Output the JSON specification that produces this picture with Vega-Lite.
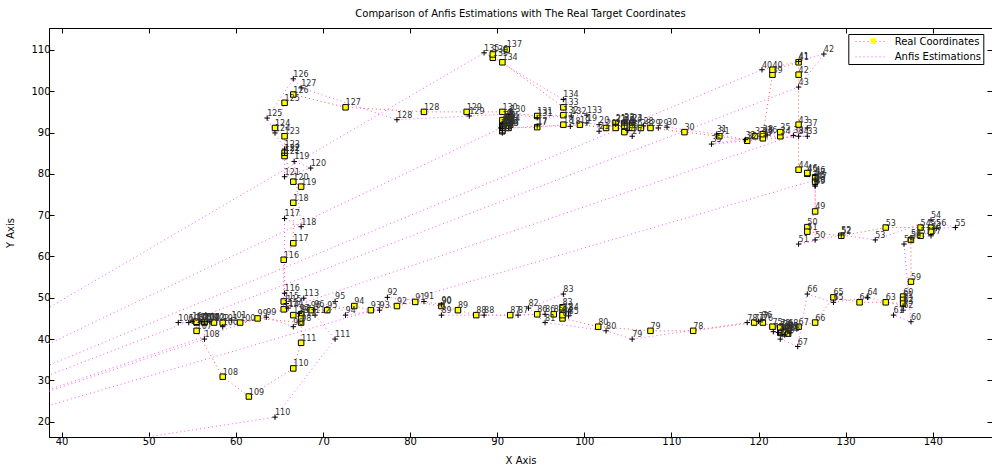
{
  "$schema": "https://vega.github.io/schema/vega-lite/v6.json",
  "width": 943,
  "height": 409,
  "autosize": {"type": "none"},
  "padding": {"left": 49, "top": 28, "right": 0, "bottom": 29},
  "background": "white",
  "title": {"text": "Comparison of Anfis Estimations with The Real Target Coordinates", "font": "DejaVu Sans", "fontSize": 10, "fontWeight": "normal", "color": "black", "anchor": "middle", "offset": 9},
  "config": {"view": {"stroke": "black", "strokeWidth": 1}},
  "data": {"values": [
    {"s":"R","n":1,"x":91.3,"y":93.7},{"s":"R","n":2,"x":91.3,"y":93.2},{"s":"R","n":3,"x":91.5,"y":92.8},{"s":"R","n":4,"x":91.3,"y":92.3},{"s":"R","n":5,"x":91.5,"y":91.9},{"s":"R","n":6,"x":91.1,"y":92.0},{"s":"R","n":7,"x":90.6,"y":92.3},{"s":"R","n":8,"x":90.6,"y":91.9},{"s":"R","n":9,"x":90.6,"y":91.5},{"s":"R","n":10,"x":90.6,"y":91.1},
    {"s":"R","n":11,"x":90.6,"y":90.7},{"s":"R","n":12,"x":90.6,"y":90.3},{"s":"R","n":13,"x":91.3,"y":91.5},{"s":"R","n":14,"x":91.3,"y":92.8},{"s":"R","n":15,"x":90.6,"y":93.0},{"s":"R","n":16,"x":91.3,"y":91.1},{"s":"R","n":17,"x":94.6,"y":91.3},{"s":"R","n":18,"x":97.6,"y":91.9},{"s":"R","n":19,"x":99.5,"y":91.9},{"s":"R","n":20,"x":102.5,"y":91.1},
    {"s":"R","n":21,"x":103.6,"y":92.3},{"s":"R","n":22,"x":104.6,"y":92.3},{"s":"R","n":23,"x":105.5,"y":92.3},{"s":"R","n":24,"x":103.6,"y":91.1},{"s":"R","n":25,"x":104.6,"y":91.6},{"s":"R","n":26,"x":105.5,"y":91.1},{"s":"R","n":27,"x":104.6,"y":90.1},{"s":"R","n":28,"x":106.5,"y":91.1},{"s":"R","n":29,"x":107.6,"y":91.1},{"s":"R","n":30,"x":111.5,"y":90.1},
    {"s":"R","n":31,"x":115.5,"y":89.1},{"s":"R","n":32,"x":118.7,"y":88.0},{"s":"R","n":33,"x":119.6,"y":89.1},{"s":"R","n":34,"x":122.5,"y":89.1},{"s":"R","n":35,"x":122.5,"y":90.1},{"s":"R","n":36,"x":120.5,"y":89.1},{"s":"R","n":37,"x":120.5,"y":88.6},{"s":"R","n":38,"x":120.5,"y":89.6},{"s":"R","n":39,"x":121.6,"y":104.0},{"s":"R","n":40,"x":121.6,"y":105.2},
    {"s":"R","n":41,"x":124.6,"y":107.0},{"s":"R","n":42,"x":124.6,"y":104.0},{"s":"R","n":43,"x":124.6,"y":91.9},{"s":"R","n":44,"x":124.6,"y":81.0},{"s":"R","n":45,"x":125.6,"y":80.0},{"s":"R","n":46,"x":125.6,"y":80.2},{"s":"R","n":47,"x":126.5,"y":79.2},{"s":"R","n":48,"x":126.5,"y":78.1},{"s":"R","n":49,"x":126.5,"y":70.9},{"s":"R","n":50,"x":125.6,"y":67.1},
    {"s":"R","n":51,"x":125.6,"y":66.0},{"s":"R","n":52,"x":129.5,"y":65.0},{"s":"R","n":53,"x":134.6,"y":67.0},{"s":"R","n":54,"x":138.6,"y":67.0},{"s":"R","n":55,"x":139.8,"y":67.0},{"s":"R","n":56,"x":139.8,"y":66.0},{"s":"R","n":57,"x":138.6,"y":65.0},{"s":"R","n":58,"x":137.5,"y":64.0},{"s":"R","n":59,"x":137.5,"y":53.9},{"s":"R","n":60,"x":136.6,"y":50.3},
    {"s":"R","n":61,"x":136.6,"y":49.5},{"s":"R","n":62,"x":136.6,"y":48.6},{"s":"R","n":63,"x":134.6,"y":48.9},{"s":"R","n":64,"x":131.6,"y":48.9},{"s":"R","n":65,"x":128.6,"y":50.1},{"s":"R","n":66,"x":126.5,"y":44.0},{"s":"R","n":67,"x":124.6,"y":43.0},{"s":"R","n":68,"x":123.4,"y":42.7},{"s":"R","n":69,"x":123.4,"y":42.0},{"s":"R","n":70,"x":122.5,"y":42.3},
    {"s":"R","n":71,"x":122.5,"y":41.5},{"s":"R","n":72,"x":123.0,"y":41.8},{"s":"R","n":73,"x":122.5,"y":42.8},{"s":"R","n":74,"x":123.4,"y":41.3},{"s":"R","n":75,"x":121.6,"y":43.0},{"s":"R","n":76,"x":120.5,"y":44.0},{"s":"R","n":77,"x":119.5,"y":44.0},{"s":"R","n":78,"x":112.5,"y":42.0},{"s":"R","n":79,"x":107.6,"y":42.0},{"s":"R","n":80,"x":101.6,"y":43.0},
    {"s":"R","n":81,"x":97.5,"y":45.0},{"s":"R","n":82,"x":97.5,"y":46.5},{"s":"R","n":83,"x":97.5,"y":47.7},{"s":"R","n":84,"x":97.5,"y":45.8},{"s":"R","n":85,"x":96.5,"y":46.0},{"s":"R","n":86,"x":94.6,"y":46.0},{"s":"R","n":87,"x":91.5,"y":45.8},{"s":"R","n":88,"x":87.6,"y":45.8},{"s":"R","n":89,"x":85.5,"y":47.0},{"s":"R","n":90,"x":83.6,"y":48.0},
    {"s":"R","n":91,"x":80.6,"y":49.0},{"s":"R","n":92,"x":78.5,"y":48.0},{"s":"R","n":93,"x":75.5,"y":47.0},{"s":"R","n":94,"x":73.6,"y":48.0},{"s":"R","n":95,"x":70.5,"y":47.0},{"s":"R","n":96,"x":68.6,"y":47.0},{"s":"R","n":97,"x":67.5,"y":46.0},{"s":"R","n":98,"x":67.5,"y":44.0},{"s":"R","n":99,"x":62.5,"y":45.0},{"s":"R","n":100,"x":60.5,"y":44.0},
    {"s":"R","n":101,"x":58.5,"y":44.0},{"s":"R","n":102,"x":57.5,"y":44.0},{"s":"R","n":103,"x":56.4,"y":44.0},{"s":"R","n":104,"x":56.4,"y":44.2},{"s":"R","n":105,"x":55.5,"y":44.0},{"s":"R","n":106,"x":55.5,"y":44.2},{"s":"R","n":107,"x":55.5,"y":42.0},{"s":"R","n":108,"x":58.5,"y":30.9},{"s":"R","n":109,"x":61.5,"y":26.1},{"s":"R","n":110,"x":66.6,"y":32.9},
    {"s":"R","n":111,"x":67.5,"y":39.1},{"s":"R","n":112,"x":67.5,"y":45.0},{"s":"R","n":113,"x":66.6,"y":45.8},{"s":"R","n":114,"x":65.5,"y":47.2},{"s":"R","n":115,"x":65.5,"y":49.1},{"s":"R","n":116,"x":65.5,"y":59.2},{"s":"R","n":117,"x":66.6,"y":63.2},{"s":"R","n":118,"x":66.6,"y":73.0},{"s":"R","n":119,"x":67.5,"y":76.9},{"s":"R","n":120,"x":66.6,"y":78.1},
    {"s":"R","n":121,"x":65.6,"y":84.3},{"s":"R","n":122,"x":65.6,"y":85.1},{"s":"R","n":123,"x":65.6,"y":89.1},{"s":"R","n":124,"x":64.5,"y":91.1},{"s":"R","n":125,"x":65.6,"y":97.2},{"s":"R","n":126,"x":66.6,"y":99.2},{"s":"R","n":127,"x":72.6,"y":96.1},{"s":"R","n":128,"x":81.6,"y":95.0},{"s":"R","n":129,"x":86.5,"y":95.0},{"s":"R","n":130,"x":90.6,"y":95.0},
    {"s":"R","n":131,"x":94.6,"y":94.0},{"s":"R","n":132,"x":97.6,"y":94.2},{"s":"R","n":133,"x":97.6,"y":96.1},{"s":"R","n":134,"x":90.6,"y":107.0},{"s":"R","n":135,"x":89.5,"y":108.1},{"s":"R","n":136,"x":89.5,"y":108.9},{"s":"R","n":137,"x":91.1,"y":110.1},
    {"s":"A","n":1,"x":0,"y":0},{"s":"A","n":2,"x":90.4,"y":91.1},{"s":"A","n":3,"x":91.1,"y":93.2},{"s":"A","n":4,"x":91.3,"y":92.5},{"s":"A","n":5,"x":91.5,"y":91.9},{"s":"A","n":6,"x":90.8,"y":92.6},{"s":"A","n":7,"x":91.3,"y":93.6},{"s":"A","n":8,"x":90.6,"y":92.0},{"s":"A","n":9,"x":91.5,"y":93.0},{"s":"A","n":10,"x":90.6,"y":90.5},
    {"s":"A","n":11,"x":91.0,"y":91.6},{"s":"A","n":12,"x":90.6,"y":89.9},{"s":"A","n":13,"x":91.3,"y":91.0},{"s":"A","n":14,"x":91.5,"y":92.4},{"s":"A","n":15,"x":90.9,"y":93.0},{"s":"A","n":16,"x":90.6,"y":90.9},{"s":"A","n":17,"x":94.6,"y":91.6},{"s":"A","n":18,"x":98.4,"y":91.5},{"s":"A","n":19,"x":100.3,"y":92.3},{"s":"A","n":20,"x":101.7,"y":91.9},
    {"s":"A","n":21,"x":101.7,"y":90.3},{"s":"A","n":22,"x":103.6,"y":92.0},{"s":"A","n":23,"x":104.6,"y":92.6},{"s":"A","n":24,"x":105.5,"y":92.4},{"s":"A","n":25,"x":104.6,"y":91.8},{"s":"A","n":26,"x":105.0,"y":90.5},{"s":"A","n":27,"x":105.5,"y":89.1},{"s":"A","n":28,"x":106.8,"y":91.6},{"s":"A","n":29,"x":108.5,"y":91.1},{"s":"A","n":30,"x":109.5,"y":91.3},
    {"s":"A","n":31,"x":115.2,"y":89.6},{"s":"A","n":32,"x":118.5,"y":88.3},{"s":"A","n":33,"x":125.6,"y":89.1},{"s":"A","n":34,"x":124.6,"y":89.1},{"s":"A","n":35,"x":114.6,"y":87.2},{"s":"A","n":36,"x":121.0,"y":89.4},{"s":"A","n":37,"x":125.6,"y":91.1},{"s":"A","n":38,"x":124.0,"y":89.3},{"s":"A","n":39,"x":0,"y":0},{"s":"A","n":40,"x":120.4,"y":105.2},
    {"s":"A","n":41,"x":124.6,"y":107.2},{"s":"A","n":42,"x":127.5,"y":109.0},{"s":"A","n":43,"x":124.6,"y":101.0},{"s":"A","n":44,"x":0,"y":0},{"s":"A","n":45,"x":126.5,"y":78.5},{"s":"A","n":46,"x":126.5,"y":79.6},{"s":"A","n":47,"x":126.7,"y":78.2},{"s":"A","n":48,"x":126.5,"y":77.3},{"s":"A","n":49,"x":126.5,"y":77.0},{"s":"A","n":50,"x":126.5,"y":64.0},
    {"s":"A","n":51,"x":124.6,"y":63.0},{"s":"A","n":52,"x":129.5,"y":65.2},{"s":"A","n":53,"x":133.4,"y":64.0},{"s":"A","n":54,"x":139.8,"y":68.8},{"s":"A","n":55,"x":142.6,"y":67.0},{"s":"A","n":56,"x":140.4,"y":66.8},{"s":"A","n":57,"x":139.8,"y":65.0},{"s":"A","n":58,"x":137.5,"y":64.5},{"s":"A","n":59,"x":136.7,"y":63.0},{"s":"A","n":60,"x":137.5,"y":44.2},
    {"s":"A","n":61,"x":135.5,"y":45.8},{"s":"A","n":62,"x":136.6,"y":47.0},{"s":"A","n":63,"x":136.6,"y":48.0},{"s":"A","n":64,"x":132.5,"y":50.1},{"s":"A","n":65,"x":128.6,"y":48.9},{"s":"A","n":66,"x":125.6,"y":50.9},{"s":"A","n":67,"x":124.5,"y":38.2},{"s":"A","n":68,"x":122.5,"y":40.0},{"s":"A","n":69,"x":123.0,"y":41.0},{"s":"A","n":70,"x":122.3,"y":41.6},
    {"s":"A","n":71,"x":123.4,"y":42.0},{"s":"A","n":72,"x":122.8,"y":42.4},{"s":"A","n":73,"x":123.6,"y":41.5},{"s":"A","n":74,"x":122.6,"y":41.2},{"s":"A","n":75,"x":121.7,"y":41.8},{"s":"A","n":76,"x":120.4,"y":44.6},{"s":"A","n":77,"x":120.0,"y":44.3},{"s":"A","n":78,"x":118.7,"y":44.0},{"s":"A","n":79,"x":105.5,"y":40.0},{"s":"A","n":80,"x":102.5,"y":42.0},
    {"s":"A","n":81,"x":95.5,"y":44.0},{"s":"A","n":82,"x":93.6,"y":47.5},{"s":"A","n":83,"x":97.6,"y":50.9},{"s":"A","n":84,"x":98.2,"y":46.6},{"s":"A","n":85,"x":98.2,"y":45.6},{"s":"A","n":86,"x":95.5,"y":46.0},{"s":"A","n":87,"x":92.4,"y":45.8},{"s":"A","n":88,"x":88.5,"y":45.8},{"s":"A","n":89,"x":83.6,"y":45.8},{"s":"A","n":90,"x":83.6,"y":48.3},
    {"s":"A","n":91,"x":81.6,"y":49.1},{"s":"A","n":92,"x":77.4,"y":50.1},{"s":"A","n":93,"x":76.5,"y":47.0},{"s":"A","n":94,"x":72.6,"y":45.8},{"s":"A","n":95,"x":71.4,"y":49.1},{"s":"A","n":96,"x":69.0,"y":47.2},{"s":"A","n":97,"x":67.3,"y":46.2},{"s":"A","n":98,"x":66.6,"y":43.0},{"s":"A","n":99,"x":63.5,"y":45.3},{"s":"A","n":100,"x":58.5,"y":43.0},
    {"s":"A","n":101,"x":59.5,"y":44.6},{"s":"A","n":102,"x":57.0,"y":44.2},{"s":"A","n":103,"x":56.0,"y":44.2},{"s":"A","n":104,"x":55.0,"y":44.3},{"s":"A","n":105,"x":54.6,"y":44.0},{"s":"A","n":106,"x":53.4,"y":44.0},{"s":"A","n":107,"x":56.4,"y":44.2},{"s":"A","n":108,"x":56.4,"y":40.0},{"s":"A","n":109,"x":0,"y":0},{"s":"A","n":110,"x":64.5,"y":21.1},
    {"s":"A","n":111,"x":71.4,"y":40.0},{"s":"A","n":112,"x":69.1,"y":45.8},{"s":"A","n":113,"x":67.8,"y":49.9},{"s":"A","n":114,"x":66.0,"y":47.5},{"s":"A","n":115,"x":65.8,"y":48.6},{"s":"A","n":116,"x":65.6,"y":51.1},{"s":"A","n":117,"x":65.6,"y":69.2},{"s":"A","n":118,"x":67.5,"y":67.2},{"s":"A","n":119,"x":66.7,"y":83.0},{"s":"A","n":120,"x":68.6,"y":81.4},
    {"s":"A","n":121,"x":65.6,"y":79.3},{"s":"A","n":122,"x":65.6,"y":85.0},{"s":"A","n":123,"x":65.6,"y":86.0},{"s":"A","n":124,"x":64.5,"y":89.9},{"s":"A","n":125,"x":63.6,"y":93.5},{"s":"A","n":126,"x":66.6,"y":103.0},{"s":"A","n":127,"x":67.5,"y":100.8},{"s":"A","n":128,"x":78.5,"y":93.1},{"s":"A","n":129,"x":86.8,"y":94.0},{"s":"A","n":130,"x":91.5,"y":94.5},
    {"s":"A","n":131,"x":94.6,"y":93.6},{"s":"A","n":132,"x":98.5,"y":94.0},{"s":"A","n":133,"x":100.3,"y":94.2},{"s":"A","n":134,"x":97.6,"y":98.0},{"s":"A","n":135,"x":88.5,"y":109.3},{"s":"A","n":136,"x":0,"y":0},{"s":"A","n":137,"x":0,"y":0}
  ]},
  "resolve": {"axis": {"x": "independent", "y": "independent"}},
  "layer": [
    {
      "mark": {"type": "line", "clip": true, "strokeWidth": 1, "strokeDash": [1, 3]},
      "encoding": {
        "x": {"field": "x", "type": "quantitative", "scale": {"domain": [38.56, 146.8], "nice": false, "zero": false},
              "axis": {"values": [40,50,60,70,80,90,100,110,120,130,140], "tickSize": -5, "grid": false, "domainColor": "black", "tickColor": "black", "labelFont": "DejaVu Sans", "labelFontSize": 10, "labelColor": "black", "labelPadding": 4, "title": "X Axis", "titleFont": "DejaVu Sans", "titleFontSize": 10, "titleFontWeight": "normal", "titleColor": "black", "titlePadding": 9}},
        "y": {"field": "y", "type": "quantitative", "scale": {"domain": [16.3, 115.3], "nice": false, "zero": false},
              "axis": {"values": [20,30,40,50,60,70,80,90,100,110], "tickSize": -5, "grid": false, "domainColor": "black", "tickColor": "black", "labelFont": "DejaVu Sans", "labelFontSize": 10, "labelColor": "black", "labelPadding": 4, "title": "Y Axis", "titleFont": "DejaVu Sans", "titleFontSize": 10, "titleFontWeight": "normal", "titleColor": "black", "titlePadding": 15}},
        "stroke": {"field": "s", "type": "nominal", "sort": "descending", "scale": {"range": ["#ff5555", "#ff55ff"]},
                   "legend": {"orient": "none", "legendX": 799.3, "legendY": 6, "title": null, "direction": "vertical", "padding": 2, "rowPadding": 4.4, "symbolType": "M-3.2,0L3.2,0", "symbolSize": 100, "symbolStrokeWidth": 1, "symbolDash": [1, 3], "symbolOffset": 15.7, "labelOffset": 17.7, "labelFont": "DejaVu Sans", "labelFontSize": 10, "labelColor": "black", "labelExpr": "datum.label == 'R' ? 'Real Coordinates' : 'Anfis Estimations'", "strokeColor": "black", "fillColor": "white", "zindex": 1}},
        "order": {"field": "n", "type": "quantitative"}
      }
    },
    {
      "mark": {"type": "point", "clip": true, "stroke": "black", "strokeWidth": 1, "opacity": 1, "size": 30},
      "encoding": {
        "x": {"field": "x", "type": "quantitative", "axis": null},
        "y": {"field": "y", "type": "quantitative", "axis": null},
        "shape": {"field": "s", "type": "nominal", "scale": {"domain": ["R", "A"], "range": ["square", "M-1,0L1,0M0,-1L0,1"]},
                  "legend": {"orient": "none", "legendX": 799.3, "legendY": 6, "title": null, "direction": "vertical", "padding": 2, "rowPadding": 4.4, "symbolSize": 30, "symbolStrokeColor": "black", "symbolStrokeWidth": 1, "symbolOffset": 17.96, "labelOpacity": 0, "labelFontSize": 10, "labelFont": "DejaVu Sans", "zindex": 2}},
        "fill": {"field": "s", "type": "nominal", "scale": {"domain": ["R", "A"], "range": ["#ffff00", "transparent"]},
                 "legend": {"orient": "none", "legendX": 799.3, "legendY": 6, "title": null, "direction": "vertical", "padding": 2, "rowPadding": 4.4, "symbolSize": 30, "symbolStrokeColor": "black", "symbolStrokeWidth": 1, "symbolOffset": 17.96, "labelOpacity": 0, "labelFontSize": 10, "labelFont": "DejaVu Sans", "zindex": 2}}
      }
    },
    {
      "transform": [{"filter": "datum.x > 0"}],
      "mark": {"type": "text", "clip": true, "align": "left", "baseline": "middle", "dy": -4, "font": "DejaVu Sans", "fontSize": 8, "color": "#303030"},
      "encoding": {
        "x": {"field": "x", "type": "quantitative",
              "axis": {"orient": "top", "values": [40,50,60,70,80,90,100,110,120,130,140], "tickSize": -5, "labels": false, "domain": false, "grid": false, "tickColor": "black", "title": null}},
        "y": {"field": "y", "type": "quantitative",
              "axis": {"orient": "right", "values": [20,30,40,50,60,70,80,90,100,110], "tickSize": -5, "labels": false, "domain": false, "grid": false, "tickColor": "black", "title": null}},
        "text": {"field": "n", "type": "quantitative"}
      }
    }
  ]
}
